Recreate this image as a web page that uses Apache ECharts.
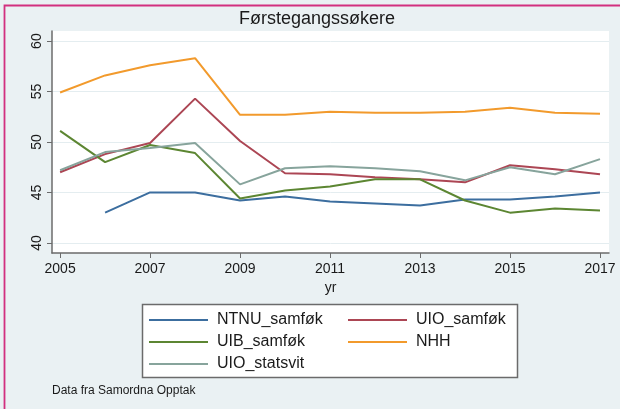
<!DOCTYPE html>
<html>
<head>
    <meta charset="utf-8">
    <title>Førstegangssøkere</title>
    <script src="https://cdn.jsdelivr.net/npm/echarts@6/dist/echarts.min.js"></script>
    <style>
        html, body { margin: 0; padding: 0; background: #eaf1f3; }
        #container { width: 620px; height: 409px; }
    </style>
</head>
<body>
<div id="container"></div>

<script type="text/javascript">
    // år langs x-aksen
    var years = [2005, 2006, 2007, 2008, 2009, 2010, 2011, 2012, 2013, 2014, 2015, 2016, 2017];
    var xTicks = [2005, 2007, 2009, 2011, 2013, 2015, 2017];
    var yTicks = [40, 45, 50, 55, 60];

    // førstegangssøkere per studium
    var ntnuSamfok   = [null, 43.0, 45.0, 45.0, 44.2, 44.6, 44.1, 43.9, 43.7, 44.3, 44.3, 44.6, 45.0];
    var uioSamfok    = [47.0, 48.8, 49.9, 54.3, 50.1, 46.9, 46.8, 46.5, 46.3, 46.0, 47.7, 47.3, 46.8];
    var uibSamfok    = [51.1, 48.0, 49.7, 48.9, 44.4, 45.2, 45.6, 46.3, 46.3, 44.2, 43.0, 43.4, 43.2];
    var nhh          = [54.9, 56.6, 57.6, 58.3, 52.7, 52.7, 53.0, 52.9, 52.9, 53.0, 53.4, 52.9, 52.8];
    var uioStatsvit  = [47.2, 49.0, 49.4, 49.9, 45.8, 47.4, 47.6, 47.4, 47.1, 46.2, 47.5, 46.8, 48.3];

    var mychart = echarts.init(document.getElementById('container'));

    function pairs(vals) {
        var out = [];
        for (var i = 0; i < years.length; i++) {
            if (vals[i] != null) out.push([years[i], vals[i]]);
        }
        return out;
    }

    function line(name, vals, color) {
        return {
            name: name,
            type: 'line',
            data: pairs(vals),
            symbol: 'none',
            lineStyle: { color: color, width: 2 },
            itemStyle: { color: color },
            animation: false
        };
    }

    var axisColor = '#6b6b6b';
    var font = 'Liberation Sans, Arial, sans-serif';

    function legendBlock(left, names) {
        return {
            orient: 'vertical',
            left: left, top: 311,
            padding: 0,
            itemWidth: 59, itemHeight: 2, itemGap: 4,
            icon: 'rect',
            data: names,
            textStyle: { fontFamily: font, fontSize: 16, color: '#1a1a1a', padding: [0, 0, 0, 4], lineHeight: 18 }
        };
    }

    var options = {
        backgroundColor: '#eaf1f3',
        animation: false,
        title: {
            text: 'Førstegangssøkere',
            left: 312,
            textAlign: 'center',
            top: 5,
            textStyle: { fontFamily: font, fontSize: 18, fontWeight: 'normal', color: '#1a1a1a' }
        },
        grid: {
            left: 52, right: 11, top: 31, bottom: 156,
            show: true, backgroundColor: '#ffffff', borderWidth: 0
        },
        xAxis: {
            type: 'value',
            min: 2004.82, max: 2017.2,
            name: 'yr',
            nameLocation: 'middle',
            nameGap: 27,
            nameTextStyle: { fontFamily: font, fontSize: 14, color: '#1a1a1a' },
            axisLine: { show: true, lineStyle: { color: axisColor, width: 1.5 } },
            axisTick: { show: true, length: 5, customValues: xTicks, lineStyle: { color: axisColor } },
            axisLabel: { customValues: xTicks, margin: 9, fontFamily: font, fontSize: 14, color: '#1a1a1a',
                formatter: function (v) { return String(v); } },
            splitLine: { show: false }
        },
        yAxis: {
            type: 'value',
            min: 39, max: 61,
            axisLine: { show: true, lineStyle: { color: axisColor, width: 1.5 } },
            axisTick: { show: true, length: 5, customValues: yTicks, lineStyle: { color: axisColor } },
            axisLabel: { customValues: yTicks, rotate: 90, margin: 8, fontFamily: font, fontSize: 14, color: '#1a1a1a' },
            splitLine: { show: false }
        },
        legend: [
            legendBlock(149, ['NTNU_samføk', 'UIB_samføk', 'UIO_statsvit']),
            legendBlock(348, ['UIO_samføk', 'NHH'])
        ],
        graphic: [
            { type: 'rect', z: -1, shape: { x: 142.5, y: 304.5, width: 375, height: 73 },
              style: { fill: '#ffffff', stroke: '#6b6b6b', lineWidth: 1.5 } },
            { type: 'text', left: 52, top: 385,
              style: { text: 'Data fra Samordna Opptak', font: '12px Liberation Sans, Arial, sans-serif', fill: '#1a1a1a' } },
            { type: 'rect', z: 100, silent: true, shape: { x: 4.5, y: 5.5, width: 700, height: 500 },
              style: { fill: 'none', stroke: '#d2307f', lineWidth: 1.8 } }
        ],
        series: [
            line('NTNU_samføk', ntnuSamfok, '#3c6e9f'),
            line('UIO_samføk', uioSamfok, '#ac4654'),
            line('UIB_samføk', uibSamfok, '#5c8632'),
            line('NHH', nhh, '#f29a2c'),
            line('UIO_statsvit', uioStatsvit, '#87a49c')
        ]
    };

    // svake hjelpelinjer ved y-tickene
    var grid = [];
    for (var i = 0; i < yTicks.length; i++) grid.push({ yAxis: yTicks[i] });
    options.series[0].markLine = {
        silent: true, symbol: 'none', label: { show: false },
        lineStyle: { color: '#e4edf0', width: 1, type: 'solid' },
        data: grid, z: 0
    };
    options.series[0].z = 2;

    mychart.setOption(options);
</script>
</body>
</html>
